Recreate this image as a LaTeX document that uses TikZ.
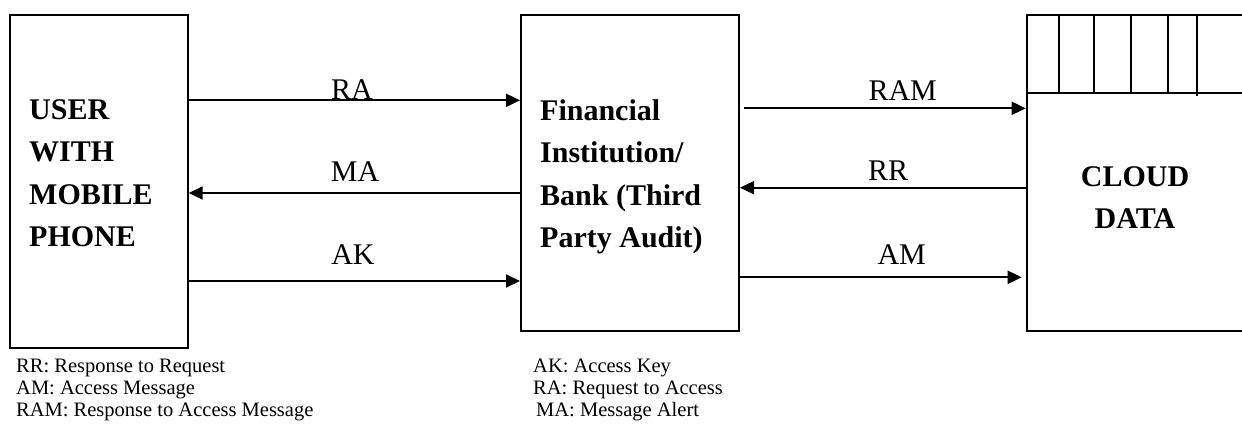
\documentclass[tikz,border=0pt]{standalone}
\usepackage{fontspec}
\setmainfont{Liberation Serif}
\usetikzlibrary{arrows.meta}
\tikzset{
  boxnode/.style={draw, line width=2pt, inner sep=0pt, anchor=north west},
  arr/.style={line width=2pt, -{Triangle[length=14pt,width=13pt]}},
  flowlabel/.style={anchor=base, inner sep=0pt, font=\fontsize{30}{36}\selectfont},
  boxtext/.style={inner sep=0pt, font=\bfseries\fontsize{30}{42.5}\selectfont},
  legendtext/.style={anchor=base west, inner sep=0pt, font=\fontsize{20.5}{22}\selectfont},
  hdrline/.style={line width=2pt}
}
\begin{document}
\begin{tikzpicture}[x=1pt,y=-1pt]
\useasboundingbox (0,0) rectangle (1242,440);
\fill[white] (0,0) rectangle (1242,440);
\clip (0,0) rectangle (1242,440);
% boxes
\node[boxnode, minimum width=177.7pt, minimum height=333pt] (user) at (9,14) {};
\node[boxnode, minimum width=218pt, minimum height=316pt] (bank) at (520,14) {};
\node[boxnode, minimum width=260pt, minimum height=316pt] (cloud) at (1025.7,14) {};
% cloud header
\coordinate (hdr) at (0,92.7);
\draw[hdrline] (cloud.west |- hdr) -- ++(240,0);
\foreach \xx in {1059,1094,1130.7,1168} {\draw[hdrline] (\xx,14) -- (\xx,92.7);}
\draw[hdrline] (1197,14) -- (1197,95.5);
% box texts
\node[boxtext, anchor=base west] (usertxt) at (29,119)
  {\begin{tabular}[t]{@{}l@{}}USER\\WITH\\MOBILE\\PHONE\end{tabular}};
\node[boxtext, anchor=base west] (banktxt) at (540,120)
  {\begin{tabular}[t]{@{}l@{}}Financial\\Institution/\\Bank (Third\\Party Audit)\end{tabular}};
\node[boxtext, anchor=base] (cloudtxt) at (1135,186)
  {\begin{tabular}[t]{@{}c@{}}CLOUD\\DATA\end{tabular}};
% arrow levels
\coordinate (yRA) at (0,100.3);
\coordinate (yMA) at (0,193);
\coordinate (yAK) at (0,281);
\coordinate (yRAM) at (0,108.3);
\coordinate (yRR) at (0,187.7);
\coordinate (yAM) at (0,277.3);
% arrows
\draw[arr] (user.east |- yRA) -- (bank.west |- yRA);
\draw[arr] (bank.west |- yMA) -- (user.east |- yMA);
\draw[arr] (user.east |- yAK) -- (bank.west |- yAK);
\draw[arr] ([xshift=3.7pt]bank.east |- yRAM) -- (cloud.west |- yRAM);
\draw[arr] (cloud.west |- yRR) -- (bank.east |- yRR);
\draw[arr] ([xshift=-1pt]bank.east |- yAM) -- ([xshift=-4pt]cloud.west |- yAM);
% arrow labels
\node[flowlabel] (lRA) at (352,99) {RA};
\node[flowlabel] (lMA) at (355,181.7) {MA};
\node[flowlabel] (lAK) at (353,264) {AK};
\node[flowlabel] (lRAM) at (902.7,100) {RAM};
\node[flowlabel] (lRR) at (888,180.7) {RR};
\node[flowlabel] (lAM) at (901.7,264) {AM};
% legend
\node[legendtext] (g1) at (16,372) {RR: Response to Request};
\node[legendtext] (g2) at (16,394) {AM: Access Message};
\node[legendtext] (g3) at (16,416) {RAM: Response to Access Message};
\node[legendtext] (g4) at (533,372) {AK: Access Key};
\node[legendtext] (g5) at (533,394) {RA: Request to Access};
\node[legendtext] (g6) at (536,416) {MA: Message Alert};
\end{tikzpicture}
\end{document}
